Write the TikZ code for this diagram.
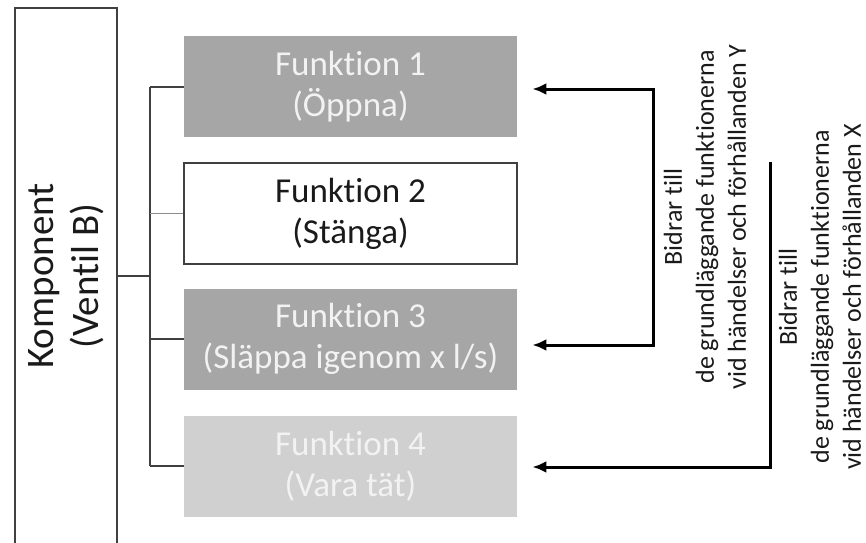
\documentclass[tikz,border=0pt]{standalone}
\usepackage{fontspec}
\setmainfont{Carlito}[Ligatures=NoCommon]
\usetikzlibrary{arrows.meta,calc}
\definecolor{Ink}{HTML}{1A1A1A}
\definecolor{Edge}{HTML}{404040}
\definecolor{Branch}{HTML}{8C8C8C}
\definecolor{DarkFill}{HTML}{A6A6A6}
\definecolor{LightFill}{HTML}{D0D0D0}
\definecolor{PaleText}{HTML}{F2F2F2}
\tikzset{
 fbox/.style={minimum width=166.5pt, minimum height=50.5pt, align=center, inner sep=0pt, font=\fontsize{17.5}{20.5}\selectfont},
 darkblock/.style={fbox, fill=DarkFill, text=PaleText},
 lightblock/.style={fbox, fill=LightFill, text=PaleText},
 whiteblock/.style={fbox, draw=Edge, line width=0.9pt, fill=white, text=Ink},
 kompbox/.style={draw=Edge, line width=0.9pt, rotate=90, minimum width=268pt, minimum height=51pt, align=center, inner sep=0pt, text=Ink, font=\fontsize{19.5}{22.5}\selectfont},
 note/.style={rotate=90, align=center, inner sep=0pt, text=Ink, font=\fontsize{13}{16}\selectfont},
 tree/.style={draw=Edge, line width=1pt},
 treethin/.style={draw=Branch, line width=0.7pt},
 link/.style={draw=black, line width=1.5pt, shorten <=7.5pt, shorten >=7.5pt}
}

\begin{document}
\begin{tikzpicture}[x=0.5pt,y=-0.5pt,>={Latex[length=7pt,width=6pt]}]
\useasboundingbox (0,0) rectangle (866,542);
% component and its functions
\node[kompbox] (komp) at (66,276) {Komponent\\(Ventil B)};
\node[darkblock] (f1) at (350.5,86.5) {Funktion 1\\(Öppna)};
\node[whiteblock] (f2) at (350.5,213.5) {Funktion 2\\(Stänga)};
\node[darkblock] (f3) at (350.5,339) {Funktion 3\\(Släppa igenom x l/s)};
\node[lightblock] (f4) at (350.5,466) {Funktion 4\\(Vara tät)};
% tree
\coordinate (hub) at (150,276);
\draw[tree] (komp.south) -- (hub);
\draw[tree] (hub |- f1.west) -- (hub |- f4.west);
\draw[tree] (hub |- f1.west) -- (f1.west);
\draw[treethin] (hub |- f2.west) -- (f2.west);
\draw[tree] (hub |- f3.west) -- (f3.west);
\draw[tree] (hub |- f4.west) -- (f4.west);
% contributions
\coordinate (ytop) at (653,89);
\coordinate (ybot) at (653,345);
\coordinate (xtop) at (770,162);
\coordinate (xbot) at (770,467);
\draw[link,<->] (f1.east |- ytop) -- (ytop) -- (ybot) -- (f3.east |- ybot);
\draw[link,->,shorten <=0pt] (xtop) -- (xbot) -- (f4.east |- xbot);
\node[note] (ytext) at (705,217) {Bidrar till\\de grundläggande funktionerna\\vid händelser och förhållanden Y};
\node[note] (xtext) at (820,297) {Bidrar till\\de grundläggande funktionerna\\vid händelser och förhållanden X};
\end{tikzpicture}
\end{document}
